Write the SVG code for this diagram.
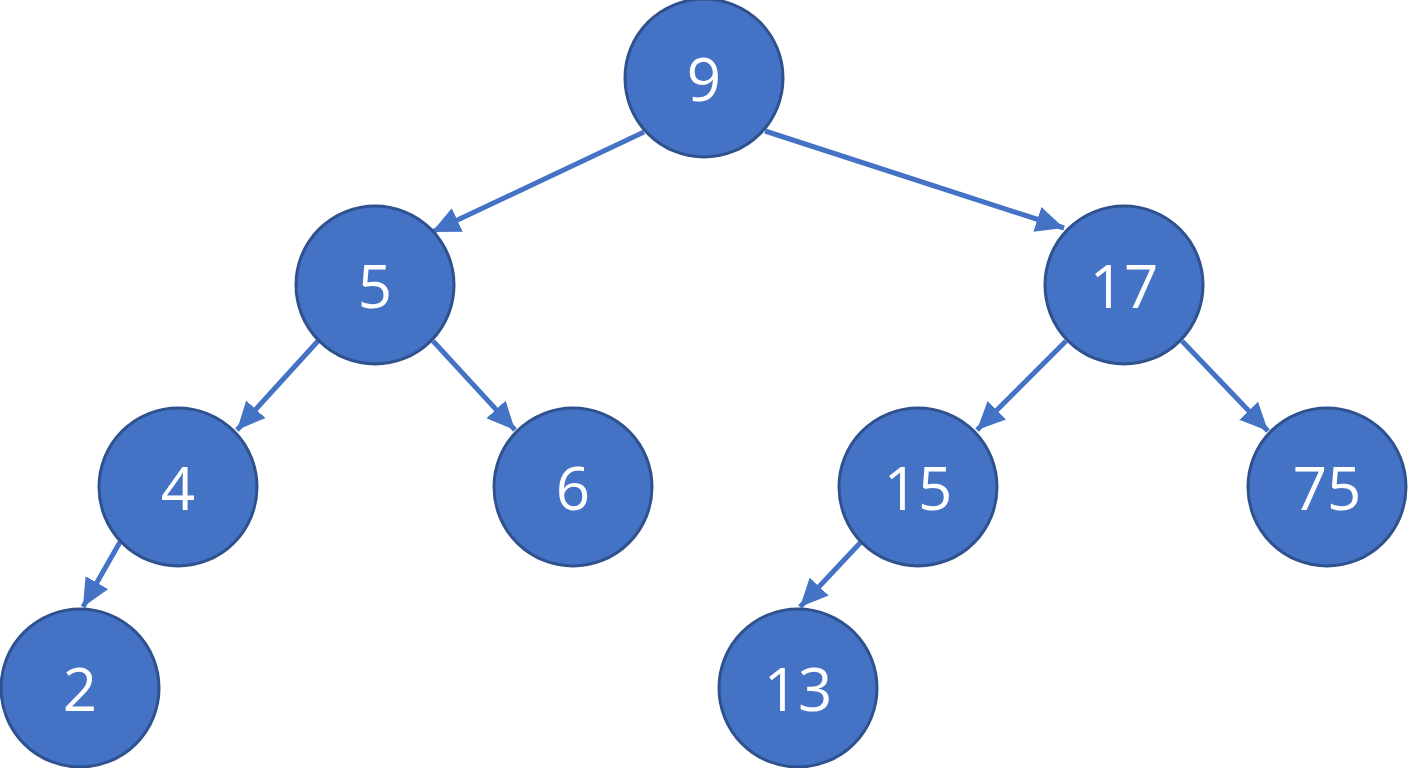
<svg xmlns="http://www.w3.org/2000/svg" width="1408" height="768" viewBox="0 0 1408 768">
<style>
.n circle{fill:#4472C4;stroke:#2F528F;stroke-width:3}
.n text{fill:#fff;font-family:"Open Sans","Liberation Sans",sans-serif;font-size:60px;text-anchor:middle;dominant-baseline:central}
.e line{stroke:#4472C4;stroke-width:5;marker-end:url(#ah)}
</style>
<defs>
<marker id="ah" markerUnits="userSpaceOnUse" markerWidth="30" markerHeight="26" refX="28" refY="13" orient="auto">
<path d="M0,0 L28,13 L0,26 Z" fill="#4472C4"/>
</marker>
</defs>
<rect width="1408" height="768" fill="#fff"/>
<g id="connectors" class="e">
<line x1="644" y1="132" x2="432" y2="232"/>
<line x1="765" y1="131" x2="1064" y2="228"/>
<line x1="318" y1="341" x2="237" y2="430"/>
<line x1="433" y1="341" x2="515" y2="430"/>
<line x1="1066" y1="341" x2="977" y2="430"/>
<line x1="1182" y1="341" x2="1268" y2="431"/>
<line x1="120" y1="542" x2="83" y2="607"/>
<line x1="861" y1="542" x2="800" y2="607"/>
</g>
<g id="n9" class="n"><circle cx="704" cy="78" r="79"/><text x="704" y="78">9</text></g>
<g id="n5" class="n"><circle cx="375" cy="285" r="79"/><text x="375" y="285">5</text></g>
<g id="n17" class="n"><circle cx="1124" cy="285" r="79"/><text x="1124" y="285">17</text></g>
<g id="n4" class="n"><circle cx="178" cy="487" r="79"/><text x="178" y="487">4</text></g>
<g id="n6" class="n"><circle cx="573" cy="487" r="79"/><text x="573" y="487">6</text></g>
<g id="n15" class="n"><circle cx="918" cy="487" r="79"/><text x="918" y="487">15</text></g>
<g id="n75" class="n"><circle cx="1327" cy="487" r="79"/><text x="1327" y="487">75</text></g>
<g id="n2" class="n"><circle cx="80" cy="688" r="79"/><text x="80" y="688">2</text></g>
<g id="n13" class="n"><circle cx="798" cy="688" r="79"/><text x="798" y="688">13</text></g>
</svg>
